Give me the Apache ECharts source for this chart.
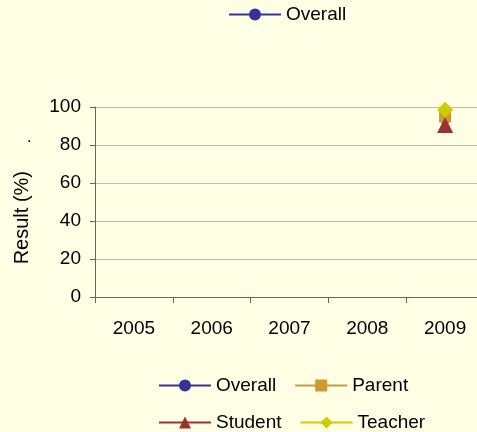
<!DOCTYPE html>
<html>
<head>
<meta charset="utf-8">
<script src="https://cdn.jsdelivr.net/npm/echarts@6/dist/echarts.min.js"></script>
<style>
  html, body { margin: 0; padding: 0; background: #FFFFE6; }
  #chart { width: 477px; height: 432px; }
</style>
</head>
<body>
<div id="chart"></div>
<script>
// data (only 2009 has values)
var years = ['2005', '2006', '2007', '2008', '2009']
var overall = [null, null, null, null, 94]
var parent = [null, null, null, null, 95]
var student = [null, null, null, null, 90.5]
var teacher = [null, null, null, null, 98.5]
var yTicks = [0, 20, 40, 60, 80, 100]

var chart = echarts.init(document.getElementById('chart'))
var font = 'Liberation Sans, Arial, sans-serif'
var axisGreen = '#4D7A3A'

function legendBox(names, top) {
  return {
    data: names,
    left: 153,
    top: top,
    orient: 'horizontal',
    itemWidth: 52,
    itemHeight: 15,
    itemGap: 18,
    selectedMode: false,
    textStyle: { fontFamily: font, fontSize: 19, color: '#000', width: 72 }
  }
}

function makeSeries(name, data, color, symbol, size) {
  return {
    name: name,
    type: 'line',
    data: data,
    symbol: symbol,
    symbolSize: size,
    color: color,
    lineStyle: { color: color, width: 1 },
    itemStyle: { color: color }
  }
}

var option = {
  backgroundColor: '#FFFFE6',
  animation: false,
  textStyle: { fontFamily: font },
  legend: [
    {
      data: ['Overall'],
      left: 223,
      top: 0,
      itemWidth: 52,
      itemHeight: 15,
      selectedMode: false,
      textStyle: { fontFamily: font, fontSize: 19, color: '#000' }
    },
    legendBox(['Overall', 'Parent'], 371),
    legendBox(['Student', 'Teacher'], 408)
  ],
  // plot runs past the right edge of the picture
  grid: { left: 95, width: 389, top: 107, height: 190, outerBoundsMode: 'none', containLabel: false },
  xAxis: {
    type: 'category',
    data: years,
    boundaryGap: true,
    axisLine: { lineStyle: { color: axisGreen, width: 1 } },
    axisTick: { show: true, length: 6, lineStyle: { color: axisGreen } },
    axisLabel: { fontSize: 19, color: '#000', margin: 22, fontFamily: font },
    splitLine: { show: false }
  },
  yAxis: {
    type: 'value',
    min: yTicks[0],
    max: yTicks[yTicks.length - 1],
    interval: 20,
    axisLine: { show: true, lineStyle: { color: axisGreen, width: 1 } },
    axisTick: { show: true, length: 5, lineStyle: { color: axisGreen } },
    axisLabel: { fontSize: 19, color: '#000', margin: 14, fontFamily: font },
    splitLine: { show: true, lineStyle: { color: '#BDBDBD', width: 1 } }
  },
  graphic: [
    {
      type: 'text',
      left: 12,
      top: 171,
      style: { text: 'Result (%)', fontSize: 20, fontFamily: font, fill: '#000' },
      rotation: Math.PI / 2
    },
    {
      type: 'text',
      left: 27,
      top: 130,
      style: { text: '.', fontSize: 16, fontFamily: font, fill: '#000' }
    }
  ],
  series: [
    makeSeries('Overall', overall, '#333399', 'circle', 11),
    makeSeries('Parent', parent, '#CC9933', 'rect', 12),
    makeSeries('Student', student, '#993333', 'triangle', 16),
    makeSeries('Teacher', teacher, '#CCCC00', 'diamond', 16)
  ]
}

chart.setOption(option)
</script>
</body>
</html>
